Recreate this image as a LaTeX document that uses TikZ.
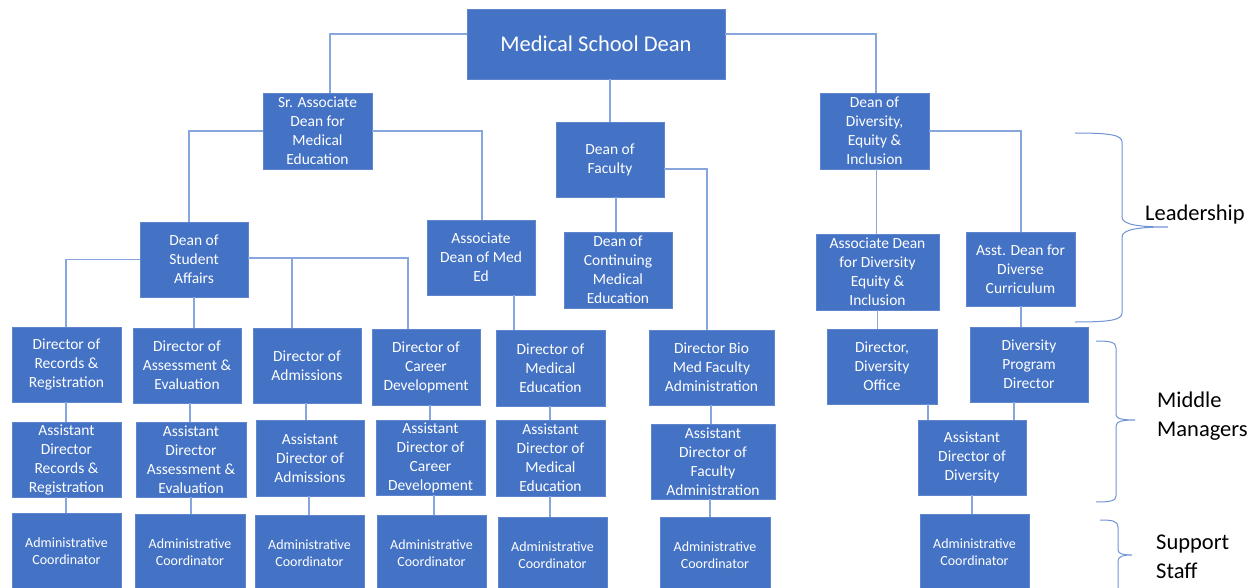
\documentclass[tikz,border=0pt]{standalone}
\usepackage{fontspec}
\setmainfont{Carlito}
\definecolor{boxfill}{HTML}{4472C4}
\definecolor{boxline}{HTML}{5F86CC}
\definecolor{conn}{HTML}{86A6DD}
\definecolor{bracecol}{HTML}{6F93D4}
\tikzset{
  orgbox/.style={fill=boxfill, draw=boxline, line width=0.8pt, text=white, align=center,
    inner sep=1pt, font=\fontsize{15.5}{19}\selectfont},
  adminbox/.style={orgbox, font=\fontsize{14}{17}\selectfont},
  link/.style={draw=conn, line width=1.2pt},
  bracestyle/.style={draw=bracecol, line width=1pt},
  tierlabel/.style={anchor=west, align=left, text=black, inner sep=0pt, font=\fontsize{22.5}{29}\selectfont}
}
\newcommand{\bx}[6]{\node[#1, minimum width=#4pt, minimum height=#5pt] (#2) at (#3) {#6};}
\begin{document}
\begin{tikzpicture}[x=1pt,y=-1pt]
\useasboundingbox (0,0) rectangle (1260,588);
% top levels
\bx{orgbox, font=\fontsize{22.5}{26}\selectfont}{dean}{596,44}{258}{70}{Medical School Dean}
\bx{orgbox}{srad}{317.5,131}{109}{76}{Sr. Associate\\Dean for\\Medical\\Education}
\bx{orgbox}{dof}{610,159.5}{108}{75}{Dean of\\Faculty}
\bx{orgbox}{dei}{874.5,131}{109}{76}{Dean of\\Diversity,\\Equity \&\\Inclusion}
\bx{orgbox}{dsa}{194,259.5}{108}{75}{Dean of\\Student\\Affairs}
\bx{orgbox}{adme}{481,257.5}{108}{75}{Associate\\Dean of Med\\Ed}
\bx{orgbox}{dcme}{618,270}{108}{76}{Dean of\\Continuing\\Medical\\Education}
\bx{orgbox}{add}{877.5,272}{123}{76}{Associate Dean\\for Diversity\\Equity \&\\Inclusion}
\bx{orgbox}{adc}{1020.5,269}{109}{74}{Asst. Dean for\\Diverse\\Curriculum}
% directors
\bx{orgbox}{drr}{66.5,364.5}{109}{75}{Director of\\Records \&\\Registration}
\bx{orgbox}{dae}{187,365.5}{108}{75}{Director of\\Assessment \&\\Evaluation}
\bx{orgbox}{dad}{307,365.5}{108}{75}{Director of\\Admissions}
\bx{orgbox}{dcd}{426,367}{108}{76}{Director of\\Career\\Development}
\bx{orgbox}{dme}{550.5,368}{109}{76}{Director of\\Medical\\Education}
\bx{orgbox}{dbm}{711.5,367.5}{125}{75}{Director Bio\\Med Faculty\\Administration}
\bx{orgbox}{ddo}{882,366.5}{110}{75}{Director,\\Diversity\\Office}
\bx{orgbox}{ddp}{1029,364.5}{118}{75}{Diversity\\Program\\Director}
% assistants
\bx{orgbox}{arr}{66.5,459.5}{109}{75}{Assistant\\Director\\Records \&\\Registration}
\bx{orgbox}{aae}{191,459.5}{110}{75}{Assistant\\Director\\Assessment \&\\Evaluation}
\bx{orgbox}{aad}{310,458}{108}{76}{Assistant\\Director of\\Admissions}
\bx{orgbox}{acd}{430.5,457.5}{109}{75}{Assistant\\Director of\\Career\\Development}
\bx{orgbox}{ame}{550.5,458}{109}{76}{Assistant\\Director of\\Medical\\Education}
\bx{orgbox}{afa}{713,461.5}{124}{75}{Assistant\\Director of\\Faculty\\Administration}
\bx{orgbox}{adv}{972,457.5}{108}{75}{Assistant\\Director of\\Diversity}
% admin coordinators
\bx{adminbox}{c1}{66.5,551}{109}{76}{Administrative\\Coordinator}
\bx{adminbox}{c2}{190,552}{110}{76}{Administrative\\Coordinator}
\bx{adminbox}{c3}{309.5,553}{109}{76}{Administrative\\Coordinator}
\bx{adminbox}{c4}{431.5,553}{109}{76}{Administrative\\Coordinator}
\bx{adminbox}{c5}{552.5,555}{109}{76}{Administrative\\Coordinator}
\bx{adminbox}{c6}{715,555}{110}{76}{Administrative\\Coordinator}
\bx{adminbox}{c7}{974.5,552}{109}{76}{Administrative\\Coordinator}
% connectors
\draw[link] ([yshift=10pt]dean.west) -| ([xshift=12.5pt]srad.north);
\draw[link] ([yshift=10pt]dean.east) -| ([xshift=1.5pt]dei.north);
\draw[link] ([xshift=14pt]dean.south) -- (dof.north);
\draw[link] (srad.west) -| ([xshift=-5pt]dsa.north);
\draw[link] (srad.east) -| ([xshift=1pt]adme.north);
\draw[link] ([xshift=6pt]dof.south) -- ([xshift=6pt]dof.south |- dcme.north);
\draw[link] ([yshift=-9.5pt]dof.east) -| ([xshift=-4.5pt]dbm.north);
\draw[link] ([xshift=2pt]dei.south) -- ([xshift=2pt]dei.south |- add.north);
\draw[link] (dei.east) -| ([xshift=0.5pt]adc.north);
\draw[link] (dsa.west) -| ([xshift=-0.5pt]drr.north);
\draw[link] ([yshift=1.5pt]dsa.east) -| ([xshift=-18pt]dcd.north);
\draw[link] ([xshift=-15pt]dad.north) -- ([xshift=-15pt,yshift=1.5pt]dad.north |- dsa.east);
\draw[link] (dsa.south) -- (dsa.south |- dae.north);
\draw[link] ([xshift=33pt]adme.south) -- ([xshift=33pt]adme.south |- dme.north);
\draw[link] (add.south) -- (add.south |- ddo.north);
\draw[link] ([xshift=0.5pt]adc.south) -- ([xshift=0.5pt]adc.south |- ddp.north);
% director -> assistant
\draw[link] ([xshift=-0.5pt]drr.south) -- ([xshift=-0.5pt]drr.south |- arr.north);
\draw[link] ([xshift=3pt]dae.south) -- ([xshift=3pt]dae.south |- aae.north);
\draw[link] ([xshift=-1pt]dad.south) -- ([xshift=-1pt]dad.south |- aad.north);
\draw[link] ([xshift=4pt]dcd.south) -- ([xshift=4pt]dcd.south |- acd.north);
\draw[link] ([xshift=-0.5pt]dme.south) -- ([xshift=-0.5pt]dme.south |- ame.north);
\draw[link] ([xshift=-0.5pt]dbm.south) -- ([xshift=-0.5pt]dbm.south |- afa.north);
\draw[link] ([xshift=46pt]ddo.south) -- ([xshift=46pt]ddo.south |- adv.north);
\draw[link] ([xshift=-15pt]ddp.south) -- ([xshift=-15pt]ddp.south |- adv.north);
% assistant -> coordinator
\draw[link] ([xshift=-0.5pt]arr.south) -- ([xshift=-0.5pt]arr.south |- c1.north);
\draw[link] (aae.south) -- (aae.south |- c2.north);
\draw[link] ([xshift=-1pt]aad.south) -- ([xshift=-1pt]aad.south |- c3.north);
\draw[link] ([xshift=3.5pt]acd.south) -- ([xshift=3.5pt]acd.south |- c4.north);
\draw[link] ([xshift=-0.5pt]ame.south) -- ([xshift=-0.5pt]ame.south |- c5.north);
\draw[link] ([xshift=-3pt]afa.south) -- ([xshift=-3pt]afa.south |- c6.north);
\draw[link] (adv.south) -- (adv.south |- c7.north);
% braces
\draw[bracestyle] (1075,133) .. controls (1110,133) and (1122,135) .. (1122,142)
  -- (1122,217) .. controls (1122,225) and (1140,227) .. (1168,227)
  .. controls (1140,227) and (1122,229) .. (1122,237)
  -- (1122,313) .. controls (1122,320) and (1110,322) .. (1075,322);
\draw[bracestyle] (1096,341) .. controls (1110,341) and (1116,342) .. (1116,348)
  -- (1116,415) .. controls (1116,419) and (1124,420) .. (1135,420)
  .. controls (1124,420) and (1116,421) .. (1116,426)
  -- (1116,496) .. controls (1116,501) and (1110,502) .. (1096,502);
\draw[bracestyle] (1100,520) .. controls (1112,520) and (1118,521) .. (1118,527)
  -- (1118,550) .. controls (1118,554) and (1124,555) .. (1132,555)
  .. controls (1124,555) and (1118,556) .. (1118,561)
  -- (1118,600);
% tier labels
\node[tierlabel] (lead) at (1145,215) {Leadership};
\node[tierlabel] (mid) at (1157,416) {Middle\\Managers};
\node[tierlabel] (sup) at (1156,557) {Support\\Staff};
\end{tikzpicture}
\end{document}
